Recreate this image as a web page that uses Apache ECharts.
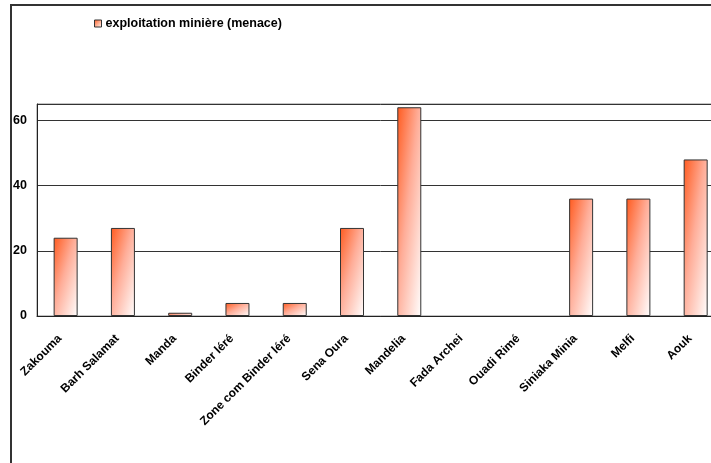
<!DOCTYPE html>
<html>
<head>
<meta charset="utf-8">
<script src="https://cdn.jsdelivr.net/npm/echarts@6/dist/echarts.min.js"></script>
<style>
  html, body { margin: 0; padding: 0; background: #fff; overflow: hidden; }
  #chart { width: 740px; height: 463px; }
</style>
</head>
<body>
<div id="chart"></div>
<script>
// Sites and counts for the "exploitation minière (menace)" series
const categories = ['Zakouma', 'Barh Salamat', 'Manda', 'Binder léré', 'Zone com Binder léré',
  'Sena Oura', 'Mandelia', 'Fada Archei', 'Ouadi Rimé', 'Siniaka Minia', 'Melfi', 'Aouk'];
const seriesName = 'exploitation minière (menace)';
const values = [24, 27, 1, 4, 4, 27, 64, 0, 0, 36, 36, 48];
const yTicks = [0, 20, 40, 60];

const FONT = 'Arial, "Liberation Sans", sans-serif';
// the plot area runs on past the right edge of the frame
const GRID = { left: 37, top: 104, width: 687.3, height: 212 };
const Y_MAX = 65;
const BAR_W = 24;
const ORANGE = '#ff5a1e';

// Diagonal fill stretched over the bar box: orange at top-left, white at bottom-right
function barFill(v) {
  const w = BAR_W;
  const h = Math.max(1, v / Y_MAX * GRID.height);
  const s = 1 / (w * w) + 1 / (h * h);
  return new echarts.graphic.LinearGradient(0, 0, 2 / (w * w * s), 2 / (h * h * s), [
    { offset: 0, color: ORANGE },
    { offset: 0.45, color: '#ffad98' },
    { offset: 1, color: '#ffffff' }
  ]);
}

const chart = echarts.init(document.getElementById('chart'), null, { renderer: 'canvas' });
chart.setOption({
  animation: false,
  backgroundColor: '#ffffff',
  textStyle: { fontFamily: FONT },
  graphic: [{
    type: 'rect',
    shape: { x: 11, y: 5, width: 900, height: 700 },
    style: { fill: 'none', stroke: '#333', lineWidth: 2 },
    silent: true
  }],
  legend: {
    data: [{ name: seriesName, itemStyle: { color: new echarts.graphic.LinearGradient(0, 0, 1, 1, [
      { offset: 0, color: ORANGE }, { offset: 1, color: '#ffffff' }]), borderColor: '#333', borderWidth: 1 } }],
    left: 89, top: 12,
    icon: 'rect', itemWidth: 7, itemHeight: 7, itemGap: 4,
    textStyle: { fontFamily: FONT, fontWeight: 'bold', fontSize: 12.5, color: '#000', padding: [0, 0, 0, -1] }
  },
  grid: Object.assign({ show: true, borderColor: '#888', borderWidth: 1, containLabel: false }, GRID),
  xAxis: {
    type: 'category',
    data: categories,
    axisLine: { show: true, lineStyle: { color: '#222', width: 1 } },
    axisTick: { show: false },
    axisLabel: {
      interval: 0, rotate: 45, margin: 15, padding: [0, 8, 0, 0],
      fontFamily: FONT, fontWeight: 'bold', fontSize: 12, color: '#000'
    },
    splitLine: { show: false }
  },
  yAxis: {
    type: 'value',
    min: 0, max: Y_MAX, interval: 20,
    axisLine: { show: true, lineStyle: { color: '#222', width: 1 } },
    axisTick: { show: false },
    axisLabel: {
      margin: 10, fontFamily: FONT, fontWeight: 'bold', fontSize: 12.5, color: '#000',
      formatter: v => (yTicks.indexOf(v) >= 0 ? String(v) : '')
    },
    splitLine: { show: true, lineStyle: { color: '#333', width: 1 } }
  },
  series: [{
    name: seriesName,
    type: 'bar',
    // a zero count draws no bar outline
    data: values.map(v => (v === 0 ? { value: v, itemStyle: { borderWidth: 0 } } : v)),
    barWidth: BAR_W,
    itemStyle: {
      color: p => barFill(p.value),
      borderColor: '#333', borderWidth: 1
    }
  }]
});
</script>
</body>
</html>
